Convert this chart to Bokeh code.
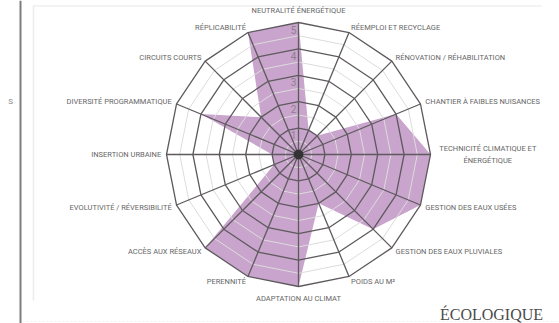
import numpy as np
from bokeh.plotting import figure
from bokeh.models import Range1d
from bokeh.core.properties import value
from bokeh.embed import file_html
from bokeh.resources import INLINE

# ---- data ----
criteria = [
    "NEUTRALITÉ ÉNERGÉTIQUE",
    "RÉEMPLOI ET RECYCLAGE",
    "RÉNOVATION / RÉHABILITATION",
    "CHANTIER À FAIBLES NUISANCES",
    "TECHNICITÉ CLIMATIQUE ET\nÉNERGÉTIQUE",
    "GESTION DES EAUX USÉES",
    "GESTION DES EAUX PLUVIALES",
    "POIDS AU M²",
    "ADAPTATION AU CLIMAT",
    "PERENNITÉ",
    "ACCÈS AUX RÉSEAUX",
    "EVOLUTIVITÉ / RÉVERSIBILITÉ",
    "INSERTION URBAINE",
    "DIVERSITÉ PROGRAMMATIQUE",
    "CIRCUITS COURTS",
    "RÉPLICABILITÉ",
]
scores = [5, 1, 1, 4, 5, 5, 4, 2, 5, 5, 5, 1, 1, 4, 2, 5]
scale_ticks = [1, 2, 3, 4, 5]
half_ticks = [0.5, 1.5, 2.5, 3.5, 4.5]
title_text = "ÉCOLOGIQUE"
side_letter = "S"

# ---- geometry helpers (picture pixel -> data units) ----
U = 26.4           # pixels per score unit
CX, CY = 298, 154  # picture position of radar centre
W, H = 559, 323

def dx(px):
    return (px - CX) / U

def dy(py):
    return (CY - py) / U

n = len(criteria)
theta = np.pi / 2 - np.arange(n) * 2 * np.pi / n
cos_t, sin_t = np.cos(theta), np.sin(theta)

p = figure(width=W, height=H, output_backend="svg", toolbar_location=None,
           x_range=Range1d(dx(0), dx(W)), y_range=Range1d(dy(H), dy(0)),
           min_border=0, outline_line_color=None, background_fill_color="white")
p.axis.visible = False
p.grid.visible = False

# page decorations
p.line([dx(20), dx(20)], [dy(0), dy(323)], line_color="#7d7d7d", line_width=2)
p.line([dx(33), dx(33)], [dy(5), dy(300)], line_color="#ececec", line_width=1.5)
p.line([dx(33), dx(541)], [dy(5.5), dy(5.5)], line_color="#efefef", line_width=1.5)
p.line([dx(22), dx(559)], [dy(321), dy(321)], line_color="#f1f1f1", line_width=1,
       line_dash="2 2")
p.text([dx(10)], [dy(101)], text=[side_letter], text_font=value("Roboto"),
       text_font_size="8px", text_color="#888888", text_align="center",
       text_baseline="middle")

# data polygon
r = np.array(scores, dtype=float)
p.patch(list(r * cos_t), list(r * sin_t), fill_color="#c9a4cc", line_color=None)

# light half rings
for t in half_ticks:
    xs = list(np.append(t * cos_t, t * cos_t[0]))
    ys = list(np.append(t * sin_t, t * sin_t[0]))
    p.line(xs, ys, line_color="#dcdcdc", line_width=1)

# dark rings
for t in scale_ticks:
    xs = list(np.append(t * cos_t, t * cos_t[0]))
    ys = list(np.append(t * sin_t, t * sin_t[0]))
    p.line(xs, ys, line_color="#5e5a5e", line_width=1.3)

# spokes
rmax = max(scale_ticks)
p.multi_line([[0, rmax * c] for c in cos_t], [[0, rmax * s] for s in sin_t],
             line_color="#5e5a5e", line_width=1.3)

p.scatter([0], [0], size=9, fill_color="#333333", line_color="#333333")

# scale numbers
p.text([-0.19] * len(scale_ticks), [t - 0.27 for t in scale_ticks],
       text=[str(t) for t in scale_ticks], text_font=value("Roboto"),
       text_font_size="10px", text_color="#8e7f90", text_align="center",
       text_baseline="middle")

# criteria labels
for i, lab in enumerate(criteria):
    c, s = cos_t[i], sin_t[i]
    if abs(c) < 0.01:
        rr = 5.45
        x, y = rr * c, rr * s
        align = "center"
    else:
        rr = 5.2
        x, y = rr * c, rr * s
        align = "left" if c > 0 else "right"
    if "\n" in lab:
        x += 52 / U if c > 0 else -52 / U
        align = "center"
    p.text([x], [y], text=[lab], text_font=value("Roboto"), text_font_size="7.5px",
           text_color="#666666", text_align=align, text_baseline="middle",
           text_line_height=1.4)

# title
p.text([dx(491)], [dy(314)], text=[title_text], text_font=value("Liberation Serif"),
       text_font_size="16px", text_color="#4a4a4a", text_align="center",
       text_baseline="alphabetic")

open("out.html", "w").write(file_html(p, INLINE))
